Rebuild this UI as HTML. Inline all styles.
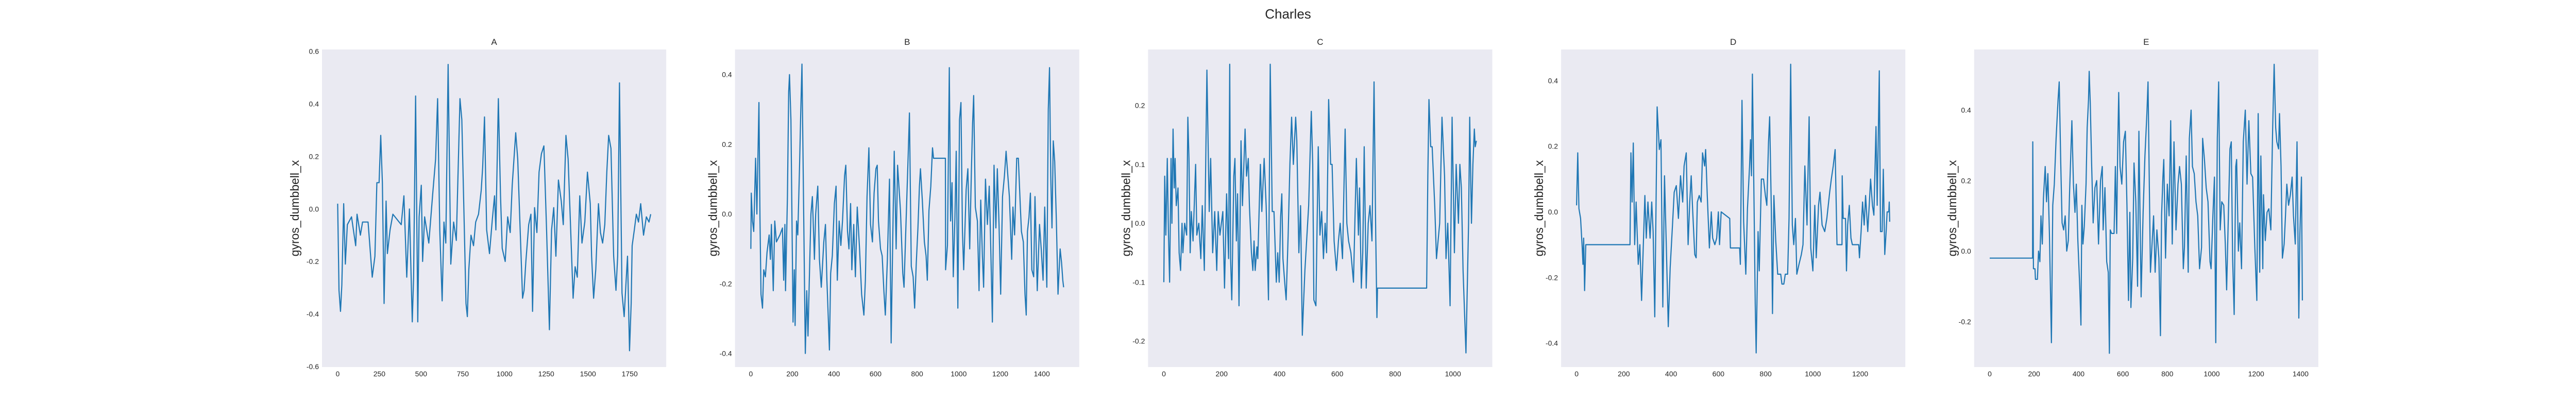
<!DOCTYPE html>
<html><head><meta charset="utf-8"><style>
html,body{margin:0;padding:0;background:#fff;}
svg text{font-family:"Liberation Sans",sans-serif;fill:#262626;}
</style></head><body>
<svg id="chart" width="5000" height="800" viewBox="0 0 5000 800" xmlns="http://www.w3.org/2000/svg">
<text x="2500" y="36" font-size="26" text-anchor="middle">Charles</text>
</svg>
<script>
const panelTitles = ["A","B","C","D","E"];
const aIdx=[0,8,17,25,36,46,58,83,108,116,136,149,182,207,223,235,248,258,268,278,290,298,314,331,381,397,414,430,447,455,467,480,488,501,509,521,546,570,587,599,612,626,637,648,662,678,695,711,733,744,757,769,777,786,799,814,827,844,860,869,880,893,910,927,940,948,963,976,986,1004,1019,1034,1046,1067,1079,1092,1108,1117,1128,1145,1158,1168,1180,1194,1207,1221,1236,1252,1269,1282,1295,1308,1323,1340,1352,1368,1381,1393,1411,1423,1436,1451,1464,1481,1497,1514,1522,1534,1547,1563,1575,1588,1601,1613,1624,1638,1654,1668,1678,1689,1704,1717,1729,1737,1749,1759,1765,1778,1790,1803,1816,1833,1850,1866,1876];
const aVal=[0.02,-0.31,-0.39,-0.29,0.02,-0.21,-0.06,-0.03,-0.14,-0.02,-0.10,-0.05,-0.05,-0.26,-0.18,0.10,0.10,0.28,0.10,-0.36,0.03,-0.17,-0.08,-0.02,-0.06,0.05,-0.26,0.00,-0.43,-0.26,0.43,-0.43,-0.03,0.09,-0.20,-0.03,-0.13,0.06,0.19,0.42,-0.08,-0.35,-0.05,-0.13,0.55,-0.21,-0.05,-0.12,0.42,0.34,-0.02,-0.36,-0.41,-0.23,-0.10,-0.14,-0.05,-0.02,0.07,0.16,0.35,-0.08,-0.17,-0.04,0.05,-0.08,0.42,0.05,-0.15,-0.20,-0.03,-0.09,0.09,0.29,0.19,-0.05,-0.34,-0.31,-0.20,-0.06,-0.02,-0.39,0.005,-0.09,0.14,0.21,0.24,-0.08,-0.46,-0.08,0.005,-0.18,0.11,0.03,-0.06,0.28,0.19,-0.02,-0.34,-0.22,-0.26,0.05,-0.13,-0.05,0.14,0.02,-0.18,-0.34,-0.23,0.02,-0.09,-0.13,-0.06,0.14,0.28,0.23,-0.18,-0.31,-0.18,0.48,-0.32,-0.41,-0.27,-0.18,-0.54,-0.36,-0.14,-0.08,-0.02,-0.05,0.02,-0.10,-0.03,-0.05,-0.02];
const bIdx=[0,2,8,14,23,29,39,44,49,56,62,70,78,88,94,99,108,115,123,140,152,158,164,167,176,182,186,193,203,209,213,220,226,234,240,246,254,262,269,275,283,289,296,306,312,322,330,339,351,359,366,371,378,384,392,402,410,416,425,433,441,451,457,465,472,480,486,495,503,512,523,533,544,551,559,568,576,585,593,602,608,614,624,632,640,647,657,667,675,685,690,699,706,720,731,737,747,757,763,772,781,788,796,804,811,816,825,835,843,849,857,866,874,879,936,937,946,955,961,968,974,982,988,996,1004,1011,1018,1024,1036,1044,1053,1061,1067,1072,1080,1090,1098,1106,1114,1120,1129,1138,1147,1153,1162,1170,1179,1186,1194,1202,1211,1220,1228,1234,1244,1255,1261,1269,1279,1287,1296,1302,1311,1319,1325,1331,1338,1345,1352,1361,1367,1378,1389,1397,1406,1414,1424,1431,1437,1443,1449,1455,1462,1470,1478,1488,1495,1501,1505];
const bVal=[-0.10,0.06,-0.02,-0.05,0.16,0.0,0.32,-0.01,-0.23,-0.27,-0.16,-0.18,-0.11,-0.06,-0.13,-0.03,-0.22,-0.02,-0.08,-0.06,-0.04,-0.19,-0.03,-0.22,0.05,0.35,0.40,0.27,-0.31,-0.16,-0.32,-0.02,-0.06,0.13,0.29,0.43,0.02,-0.40,-0.22,-0.35,-0.15,0.0,0.05,-0.13,0.0,0.08,-0.13,-0.21,-0.08,-0.03,-0.19,-0.27,-0.39,-0.17,-0.12,0.03,0.08,-0.19,-0.02,-0.09,-0.02,0.11,0.14,-0.05,-0.10,0.03,-0.16,-0.03,-0.18,0.02,-0.10,-0.23,-0.29,-0.19,0.05,0.19,-0.03,-0.08,0.06,0.13,0.14,-0.02,-0.10,-0.12,-0.22,-0.29,-0.13,0.10,-0.37,0.01,0.18,-0.10,0.14,0.01,-0.17,-0.21,-0.02,0.17,0.29,-0.15,-0.18,-0.27,-0.14,-0.04,0.08,0.13,0.04,-0.08,-0.12,-0.19,0.01,0.08,0.19,0.16,0.16,-0.16,-0.09,0.42,-0.02,0.09,-0.18,-0.01,0.18,-0.27,0.27,0.32,-0.05,-0.16,0.07,0.13,-0.10,0.12,0.26,0.34,0.02,-0.02,-0.22,0.04,-0.12,-0.21,0.10,-0.03,0.08,-0.06,-0.31,0.14,-0.04,0.13,-0.03,-0.23,0.05,0.11,0.18,0.13,0.05,-0.13,0.02,-0.06,0.16,0.16,0.03,-0.05,-0.08,-0.23,-0.29,-0.05,-0.01,0.06,-0.16,-0.18,0.05,-0.22,-0.03,-0.10,-0.19,0.02,-0.21,0.30,0.42,0.11,-0.04,0.21,0.15,-0.02,-0.23,-0.10,-0.14,-0.19,-0.21];
const cIdx=[0,3,7,12,16,20,25,28,32,36,39,43,49,53,58,63,66,72,79,83,87,91,95,101,110,114,121,128,133,140,149,157,162,169,176,183,188,194,204,210,217,224,228,231,235,242,246,251,255,260,267,272,281,286,292,296,303,308,312,316,322,325,334,339,347,354,362,368,375,381,389,394,399,404,408,412,418,423,430,436,442,448,456,460,467,473,479,483,488,495,501,510,515,519,526,534,540,546,552,558,563,570,577,582,589,597,604,610,618,627,633,639,647,656,666,673,677,683,688,693,700,707,713,720,727,733,737,739,909,913,917,923,928,937,943,954,962,971,976,982,990,997,1005,1011,1019,1024,1029,1035,1045,1054,1058,1064,1069,1074,1077,1081];
const cVal=[-0.10,0.08,-0.02,0.11,-0.02,-0.10,0.11,0.0,0.16,0.06,0.11,0.03,0.06,-0.05,-0.08,0.0,-0.05,0.0,-0.02,0.18,0.11,-0.05,0.02,-0.03,0.10,-0.02,0.0,-0.06,0.03,-0.08,0.26,0.02,0.11,-0.05,0.02,-0.08,0.02,-0.02,0.02,-0.11,0.05,-0.06,0.27,-0.06,-0.13,0.08,0.11,-0.03,0.05,-0.14,0.14,0.03,0.16,0.08,0.11,0.03,-0.05,-0.08,-0.03,-0.08,-0.04,-0.06,0.10,0.02,0.11,0.03,-0.13,0.27,0.02,0.02,-0.10,-0.05,-0.10,0.01,0.05,-0.06,-0.10,-0.13,-0.02,0.10,0.18,0.10,0.18,0.14,-0.05,0.03,-0.19,-0.14,-0.08,-0.02,0.03,0.19,0.10,-0.13,-0.14,0.13,-0.02,0.02,-0.06,0.0,-0.05,0.21,0.10,0.10,-0.03,-0.08,-0.03,0.0,-0.06,0.16,0.0,-0.03,-0.05,-0.10,0.11,-0.02,0.06,-0.11,-0.05,0.13,-0.11,0.0,0.03,-0.03,0.24,-0.02,-0.16,-0.11,-0.11,0.08,0.21,0.13,0.13,0.03,-0.06,0.0,0.18,0.08,-0.06,0.0,-0.14,0.18,-0.05,0.10,0.0,0.10,0.06,-0.08,-0.22,0.0,0.18,0.0,0.10,0.16,0.13,0.14];
const dIdx=[0,5,10,17,24,27,30,34,39,226,230,235,240,246,252,261,268,275,282,289,295,302,311,318,324,331,341,350,357,365,372,380,388,396,406,413,422,431,440,449,455,464,472,479,485,491,500,506,511,519,527,533,542,546,553,562,570,576,585,593,600,605,612,648,651,690,693,700,707,716,723,732,736,740,744,749,756,760,768,773,782,791,799,805,812,817,824,829,835,843,851,864,869,877,883,893,899,906,913,919,926,932,941,951,958,966,975,984,991,1000,1008,1014,1024,1030,1039,1050,1059,1071,1078,1086,1094,1102,1123,1124,1128,1138,1142,1147,1154,1161,1167,1194,1197,1204,1210,1217,1223,1232,1239,1244,1252,1258,1267,1272,1281,1286,1293,1298,1304,1310,1314,1321,1323,1325];
const dVal=[0.02,0.18,0.01,-0.02,-0.11,-0.16,-0.08,-0.24,-0.10,-0.10,0.18,0.03,0.21,-0.10,0.03,-0.16,-0.10,-0.27,-0.11,0.05,-0.08,0.03,-0.08,0.03,-0.06,-0.32,0.32,0.19,0.22,-0.29,0.11,-0.11,-0.35,-0.17,-0.04,0.06,0.08,-0.02,0.11,0.03,0.14,0.18,-0.10,0.03,0.11,0.01,-0.13,-0.14,0.03,0.05,0.03,0.18,0.14,0.19,0.05,-0.11,0.0,-0.08,-0.10,-0.08,0.0,-0.10,0.0,-0.02,-0.11,-0.11,-0.16,0.34,-0.03,-0.19,0.01,0.14,0.22,0.11,0.42,0.14,-0.28,-0.43,-0.06,-0.18,0.10,0.10,0.05,0.02,0.21,0.29,0.01,-0.31,0.05,-0.09,-0.19,-0.19,-0.22,-0.22,-0.19,-0.19,-0.02,0.45,-0.04,-0.10,-0.02,-0.19,-0.16,-0.13,-0.10,0.14,-0.04,0.29,-0.11,-0.18,0.02,-0.14,0.02,0.06,-0.04,-0.06,-0.02,0.06,0.10,0.14,0.19,-0.10,-0.10,0.11,-0.02,-0.02,-0.18,-0.04,0.02,-0.08,-0.10,-0.10,-0.14,-0.06,0.03,-0.04,0.05,-0.06,0.03,0.10,0.02,-0.01,0.26,0.02,0.43,-0.06,-0.06,0.13,-0.13,-0.06,0.0,0.0,0.03,-0.03];
const eIdx=[0,193,194,197,204,206,215,220,226,231,237,242,250,256,262,269,278,284,291,299,308,313,320,326,333,340,347,354,360,370,377,384,390,397,406,411,415,420,426,434,439,445,448,453,459,466,474,482,490,499,507,511,519,527,534,539,543,549,560,566,572,576,581,587,595,603,611,618,625,631,636,644,650,658,666,672,682,691,699,708,713,719,724,731,738,745,753,762,769,774,780,784,792,800,808,815,822,830,839,848,855,863,872,877,885,894,899,907,913,921,929,937,945,954,959,967,975,983,992,997,1005,1012,1018,1025,1031,1038,1045,1054,1061,1067,1074,1082,1088,1094,1101,1108,1112,1120,1126,1134,1142,1151,1159,1167,1176,1184,1194,1203,1209,1216,1221,1230,1233,1241,1249,1257,1266,1274,1281,1288,1293,1301,1305,1312,1318,1326,1332,1338,1346,1354,1362,1368,1376,1384,1392,1397,1404,1408];
const eVal=[-0.02,-0.02,0.31,-0.05,-0.05,-0.08,-0.08,0.0,-0.03,0.10,0.02,0.15,0.24,0.14,0.22,0.05,-0.26,0.13,0.19,0.32,0.43,0.48,0.25,0.08,0.06,0.10,0.0,0.03,0.17,0.37,0.19,0.11,0.19,0.03,-0.11,-0.21,0.13,0.02,0.07,0.19,0.35,0.43,0.51,0.42,0.25,0.08,0.18,0.20,0.02,0.20,0.24,0.06,0.18,-0.03,-0.06,-0.29,0.06,0.05,0.05,0.24,0.05,0.27,0.45,0.24,0.19,0.31,0.34,0.13,-0.14,0.11,-0.16,-0.02,0.25,0.14,-0.10,0.34,-0.13,0.11,0.27,0.39,0.48,0.18,-0.06,0.02,0.10,-0.06,0.06,-0.02,-0.24,0.10,0.21,0.26,-0.02,0.19,0.10,0.37,0.02,0.31,0.06,0.19,0.24,0.19,-0.05,0.01,0.27,-0.06,0.32,0.40,0.24,0.22,0.14,0.10,-0.05,0.01,0.32,0.26,0.18,0.14,-0.03,-0.05,0.10,0.21,-0.26,0.32,0.48,0.06,0.14,0.13,0.02,-0.11,0.08,0.29,0.31,-0.02,-0.18,0.24,0.26,0.0,0.08,-0.05,0.31,0.40,0.19,0.37,0.22,0.21,0.01,-0.14,0.39,-0.06,0.27,-0.05,0.16,0.03,0.11,0.12,0.06,0.34,0.53,0.35,0.31,0.29,0.39,0.24,-0.02,0.02,0.10,0.19,0.13,0.16,0.21,0.10,0.02,0.31,-0.19,0.05,0.21,-0.14];
const aXTicks=[0,250,500,750,1000,1250,1500,1750];
const aYTicks=[-0.6,-0.4,-0.2,0.0,0.2,0.4,0.6];
const bXTicks=[0,200,400,600,800,1000,1200,1400];
const bYTicks=[-0.4,-0.2,0.0,0.2,0.4];
const cXTicks=[0,200,400,600,800,1000];
const cYTicks=[-0.2,-0.1,0.0,0.1,0.2];
const dXTicks=[0,200,400,600,800,1000,1200];
const dYTicks=[-0.4,-0.2,0.0,0.2,0.4];
const eXTicks=[0,200,400,600,800,1000,1200,1400];
const eYTicks=[-0.2,0.0,0.2,0.4];

const NS="http://www.w3.org/2000/svg";
const svg=document.getElementById('chart');
const AX_W=668.1, GAP=133.6, LEFT0=625, TOP=96, BOT=712;
const panels=[
 {idx:aIdx,val:aVal,xt:aXTicks,yt:aYTicks,xmin:-94,xmax:1969,ymin:-0.602,ymax:0.607,lab:53},
 {idx:bIdx,val:bVal,xt:bXTicks,yt:bYTicks,xmin:-76,xmax:1580,ymin:-0.439,ymax:0.472,lab:43},
 {idx:cIdx,val:cVal,xt:cXTicks,yt:cYTicks,xmin:-54.5,xmax:1136,ymin:-0.244,ymax:0.295,lab:43},
 {idx:dIdx,val:dVal,xt:dXTicks,yt:dYTicks,xmin:-65.4,xmax:1391,ymin:-0.473,ymax:0.495,lab:43},
 {idx:eIdx,val:eVal,xt:eXTicks,yt:eYTicks,xmin:-70,xmax:1480,ymin:-0.329,ymax:0.572,lab:43}
];
function mk(tag,attrs,parent){const e=document.createElementNS(NS,tag);for(const k in attrs)e.setAttribute(k,attrs[k]);(parent||svg).appendChild(e);return e;}
function fmtY(v){return v.toFixed(1);}
panels.forEach((p,i)=>{
  const L=LEFT0+i*(AX_W+GAP), R=L+AX_W;
  const xs=v=>L+(v-p.xmin)/(p.xmax-p.xmin)*AX_W;
  const ys=v=>BOT-(v-p.ymin)/(p.ymax-p.ymin)*(BOT-TOP);
  const g=mk('g',{});
  
  
  const bg=mk('rect',{x:L,y:TOP,width:AX_W,height:BOT-TOP,fill:'#eaeaf2'},g);
  
  
  const t=mk('text',{x:(L+R)/2,y:87,'font-size':17,'text-anchor':'middle'},g);
  t.textContent=panelTitles[i];
  
  
  const yl=mk('text',{x:L-p.lab,y:(TOP+BOT)/2,'font-size':23,'text-anchor':'middle',transform:`rotate(-90 ${L-p.lab} ${(TOP+BOT)/2})`,'dominant-baseline':'central'},g);
  yl.textContent='gyros_dumbbell_x';
  
  
  p.xt.forEach(v=>{
    const tx=mk('text',{x:xs(v),y:730,'font-size':14,'text-anchor':'middle'},g);
    tx.textContent=String(v);
    
    
  });
  p.yt.forEach(v=>{
    const ty=mk('text',{x:L-6,y:ys(v)+5,'font-size':14,'text-anchor':'end'},g);
    ty.textContent=fmtY(v);
    
    
  });
  const pts=p.idx.map((x,k)=>xs(x).toFixed(1)+','+ys(p.val[k]).toFixed(1)).join(' ');
  const ln=mk('polyline',{points:pts,fill:'none',stroke:'#1f77b4','stroke-width':2.2,'stroke-linejoin':'round'},g);
  
  
});
</script>
</body></html>
